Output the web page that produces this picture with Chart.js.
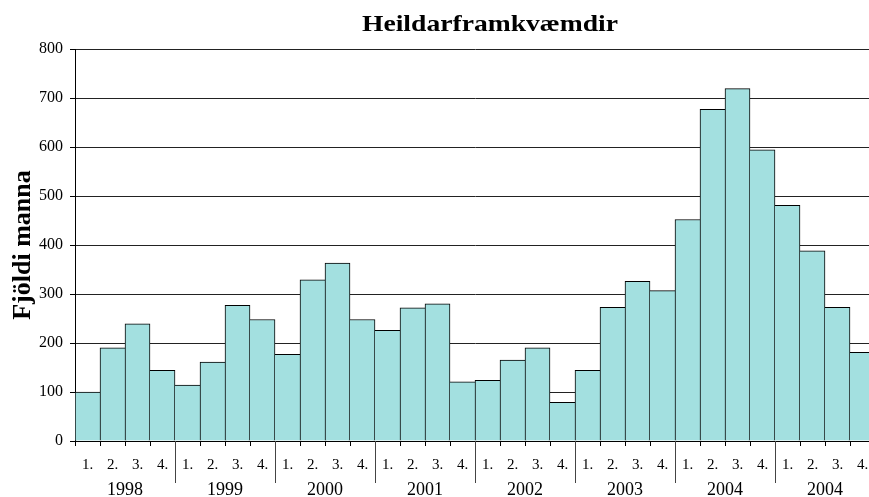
<!DOCTYPE html>
<html>
<head>
<meta charset="utf-8">
<script src="https://cdn.jsdelivr.net/npm/chart.js@4"></script>
<style>
  html, body { margin: 0; padding: 0; background: #fff; overflow: hidden; }
  #wrap { width: 869px; height: 497px; overflow: hidden; }
  canvas { display: block; }
</style>
</head>
<body>
<div id="wrap"><canvas id="c" width="880" height="497"></canvas></div>
<script>
const chartTitle = "Heildarframkvæmdir";
const yTitle = "Fjöldi manna";
const years = ["1998", "1999", "2000", "2001", "2002", "2003", "2004", "2004"];
const quarters = ["1.", "2.", "3.", "4."];
const values = [
  100, 190, 239, 144,
  114, 161, 277, 248,
  177, 329, 363, 248,
  226, 272, 280, 121,
  124, 165, 190, 79,
  144, 273, 326, 307,
  452, 677, 719, 594,
  481, 388, 273, 181
];
const yTicks = [0, 100, 200, 300, 400, 500, 600, 700, 800];

const categories = [];
years.forEach(() => quarters.forEach(q => categories.push(q)));

const SERIF = "'Liberation Serif', 'Times New Roman', serif";

const titlePlugin = {
  id: 'titlePlugin',
  afterDraw(chart) {
    const ctx = chart.ctx;
    ctx.save();
    ctx.translate(490, 25);
    ctx.scale(1.2, 1);
    ctx.font = "bold 23px " + SERIF;
    ctx.fillStyle = "#000";
    ctx.textAlign = "center";
    ctx.textBaseline = "middle";
    ctx.fillText(chartTitle, 0, 0);
    ctx.restore();
  }
};

const yearSepPlugin = {
  id: 'yearSep',
  afterDraw(chart) {
    const x = chart.scales.x;
    const ctx = chart.ctx;
    const top = chart.chartArea.bottom;
    ctx.save();
    ctx.strokeStyle = "#444";
    ctx.lineWidth = 1;
    for (let k = 1; k < years.length; k++) {
      const i = k * quarters.length;
      const px = Math.round((x.getPixelForValue(i - 1) + x.getPixelForValue(i)) / 2) + 0.5;
      ctx.beginPath();
      ctx.moveTo(px, top);
      ctx.lineTo(px, top + 42);
      ctx.stroke();
    }
    ctx.restore();
  }
};

function borderFor(ctx) {
  const i = ctx.dataIndex;
  const v = values[i];
  const prev = i > 0 ? values[i - 1] : -1;
  const next = i < values.length - 1 ? values[i + 1] : -1;
  return {
    top: 1,
    left: v >= prev ? 1 : 0,
    right: v > next ? 1 : 0,
    bottom: 0
  };
}

new Chart(document.getElementById('c'), {
  type: 'bar',
  data: {
    labels: categories,
    datasets: [{
      data: values,
      backgroundColor: '#a3e0e0',
      borderColor: '#000',
      borderWidth: borderFor,
      borderSkipped: false,
      categoryPercentage: 1.0,
      barPercentage: 1.0
    }]
  },
  options: {
    responsive: false,
    animation: false,
    devicePixelRatio: 1,
    layout: { padding: { top: 49, right: 5, left: 0, bottom: 0 } },
    plugins: {
      legend: { display: false },
      title: { display: false },
      tooltip: { enabled: false }
    },
    scales: {
      x: {
        type: 'category',
        position: 'bottom',
        offset: true,
        grid: {
          offset: true,
          drawOnChartArea: false,
          drawTicks: true,
          tickLength: 5,
          tickColor: '#000'
        },
        border: { display: true, color: '#000', width: 1 },
        ticks: {
          autoSkip: false,
          maxRotation: 0,
          minRotation: 0,
          padding: 10,
          color: '#000',
          font: { family: SERIF, size: 15 }
        },
        afterFit(s) { s.height = 38; }
      },
      x2: {
        type: 'category',
        position: 'bottom',
        labels: years,
        offset: true,
        grid: { display: false, drawTicks: false, drawOnChartArea: false },
        border: { display: false },
        ticks: {
          autoSkip: false,
          maxRotation: 0,
          minRotation: 0,
          padding: 0,
          color: '#000',
          font: { family: SERIF, size: 18 }
        },
        afterFit(s) { s.height = 18; }
      },
      y: {
        min: 0,
        max: 800,
        afterBuildTicks(s) { s.ticks = yTicks.map(v => ({ value: v })); },
        grid: {
          color: '#222',
          lineWidth: 1,
          drawTicks: true,
          tickLength: 5,
          tickColor: '#000'
        },
        border: { display: true, color: '#000', width: 1 },
        ticks: {
          padding: 7,
          color: '#000',
          font: { family: SERIF, size: 16 }
        },
        title: {
          display: true,
          text: yTitle,
          color: '#000',
          font: { family: SERIF, size: 26, weight: 'bold' },
          padding: { top: 8, bottom: 0 }
        },
        afterFit(s) { s.width = 75; }
      }
    }
  },
  plugins: [titlePlugin, yearSepPlugin]
});
</script>
</body>
</html>
